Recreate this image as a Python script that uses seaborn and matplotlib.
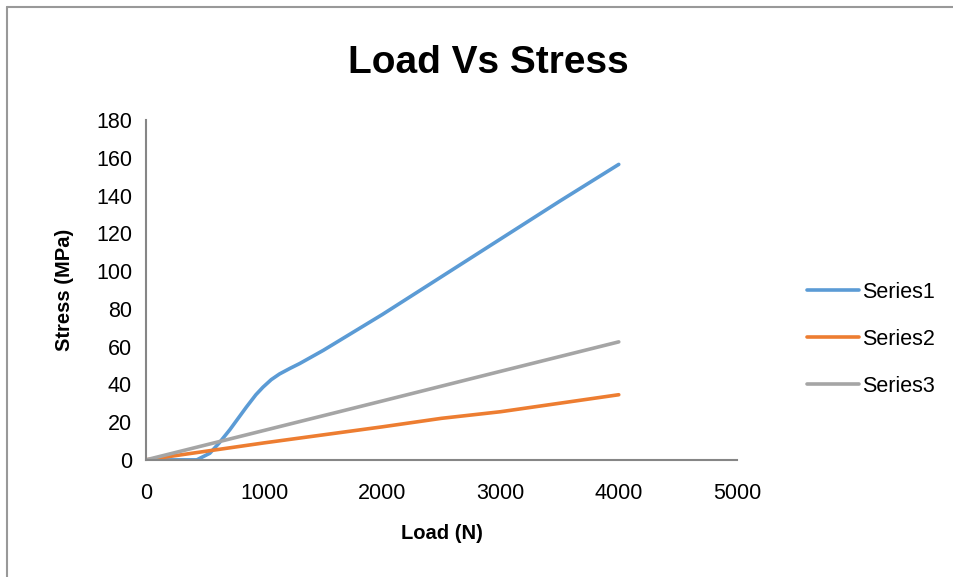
import numpy as np
import matplotlib.pyplot as plt
import matplotlib.lines as mlines
import pandas as pd
import seaborn as sns

# Values
load1 = [0, 430, 540, 620, 710, 850, 930, 990, 1060, 1130, 1220, 1300, 1500, 2000, 2500, 3000, 3500, 4000]
stress1 = [0, 0, 3.5, 9, 16, 28, 34.5, 38.5, 42.5, 45.5, 48.5, 51, 58, 77, 97, 117, 137, 156.5]
load2 = [0, 1000, 2000, 2500, 3000, 3500, 4000]
stress2 = [0, 9, 17.5, 22, 25.5, 30, 34.5]
load3 = [0, 1000, 2000, 3000, 4000]
stress3 = [0, 15.6, 31.2, 46.9, 62.5]
series_names = ["Series1", "Series2", "Series3"]
colors = ["#5B9BD5", "#ED7D31", "#A5A5A5"]

df = pd.concat([
    pd.DataFrame({"load": load1, "stress": stress1, "series": "Series1"}),
    pd.DataFrame({"load": load2, "stress": stress2, "series": "Series2"}),
    pd.DataFrame({"load": load3, "stress": stress3, "series": "Series3"}),
])

sns.set_style("white")
plt.rcParams["font.family"] = ["Liberation Sans", "DejaVu Sans"]
plt.rcParams["text.color"] = "black"
plt.rcParams["axes.labelcolor"] = "black"
plt.rcParams["xtick.color"] = "black"
plt.rcParams["ytick.color"] = "black"

fig = plt.figure(figsize=(9.54, 5.77), dpi=100)
ax = fig.add_axes([0.153, 0.203, 0.6195, 0.589])

sns.lineplot(data=df, x="load", y="stress", hue="series", palette=colors,
             linewidth=2.6, ax=ax, legend=False, sort=False)

ax.set_xlim(0, 5000)
ax.set_ylim(0, 180)
ax.set_xticks(np.arange(0, 5001, 1000))
ax.set_yticks(np.arange(0, 181, 20))
ax.tick_params(length=0, labelsize=15.5)
ax.tick_params(axis="x", pad=17)
ax.tick_params(axis="y", pad=10)
for side in ["top", "right"]:
    ax.spines[side].set_visible(False)
for side in ["left", "bottom"]:
    ax.spines[side].set_color("#868686")
    ax.spines[side].set_linewidth(1.5)

ax.set_xlabel("Load (N)", fontsize=14.5, fontweight="bold", labelpad=14)
ax.set_ylabel("Stress (MPa)", fontsize=14.5, fontweight="bold", labelpad=16)
fig.text(0.512, 0.89, "Load Vs Stress", ha="center", va="center",
         fontsize=28, fontweight="bold")

handles = [mlines.Line2D([], [], color=c, lw=2.6) for c in colors]
fig.legend(handles, series_names, loc="upper left", bbox_to_anchor=(0.826, 0.545),
           frameon=False, fontsize=15.5, handlelength=2.4, handletextpad=0.15,
           labelspacing=1.2)

# thin frame like the chart-area border
fig.add_artist(mlines.Line2D([0.0075, 0.0075], [0, 0.988], color="#999999", lw=1.5))
fig.add_artist(mlines.Line2D([0.0075, 1.0], [0.988, 0.988], color="#999999", lw=1.5))

fig.savefig("out.png", dpi=100)
